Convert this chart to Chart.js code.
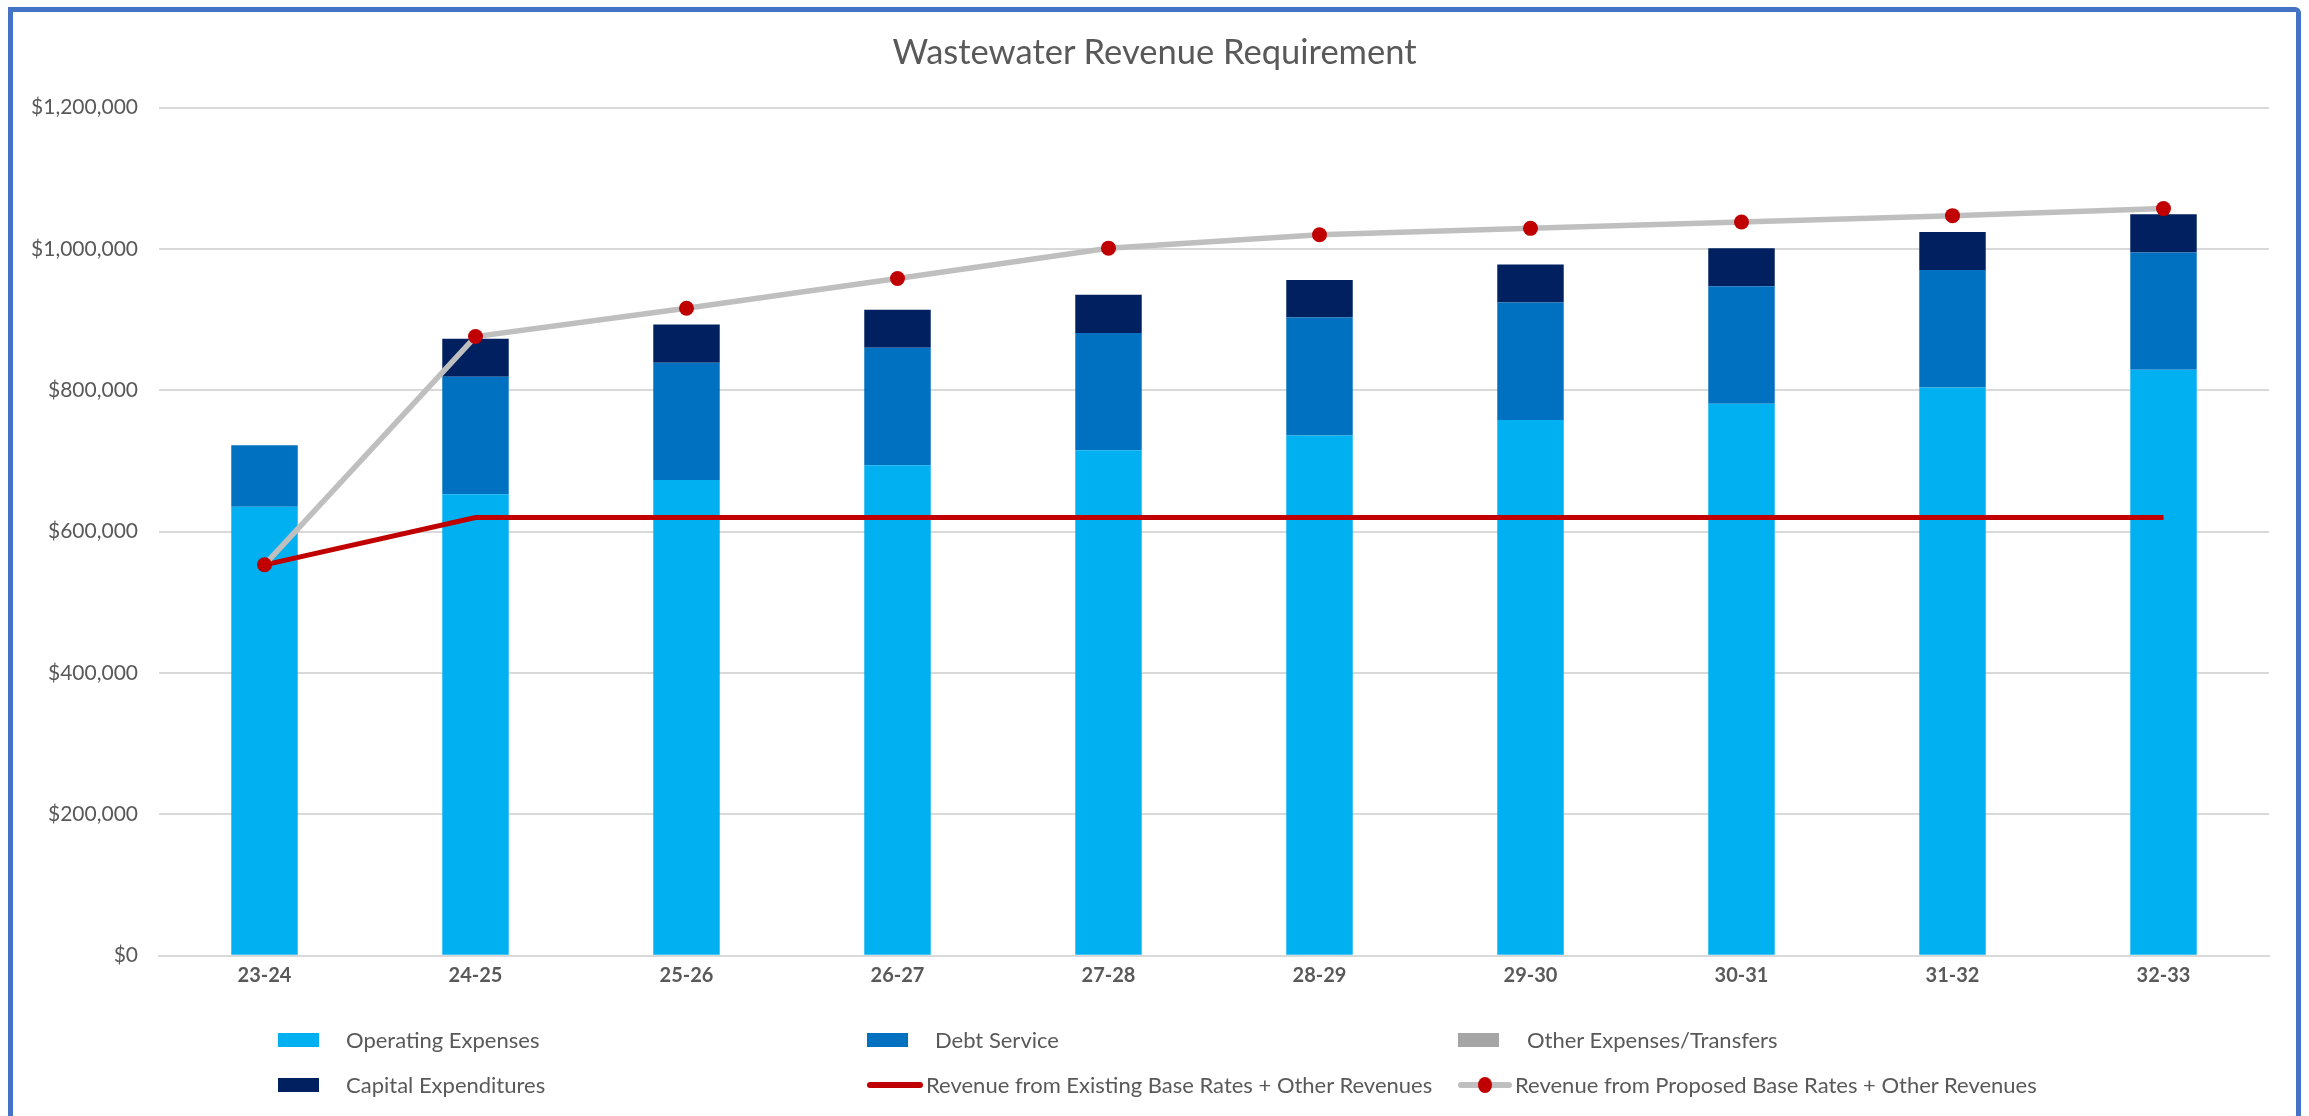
<!DOCTYPE html>
<html>
<head>
<meta charset="utf-8">
<script src="https://cdn.jsdelivr.net/npm/chart.js@4.4.1/dist/chart.umd.min.js"></script>
<style>
  html, body { margin: 0; padding: 0; background: #ffffff; overflow: hidden; width: 2309px; height: 1116px; }
  #frame { position: absolute; left: 8px; top: 7px; width: 2283px; height: 1200px; border: 5px solid #4472C4; border-bottom: none; border-radius: 0 6px 0 0; }
  #chartBox { position: absolute; left: 0; top: 0; width: 2309px; height: 1116px; }
  #title { position: absolute; left: 0; top: 31px; width: 2309px; text-align: center; font-family: Lato, sans-serif; font-size: 34.5px; line-height: 40px; color: #595959; }
  .leg { position: absolute; font-family: Lato, sans-serif; font-size: 22px; line-height: 26px; color: #595959; white-space: nowrap; }
  .sw { position: absolute; }
</style>
</head>
<body>
<div id="frame"></div>
<div id="chartBox"><canvas id="c" width="2309" height="1116"></canvas></div>
<div id="title">Wastewater Revenue Requirement</div>
<div id="legend"></div>
<script>
// ---- Data ----
const categories = ['23-24', '24-25', '25-26', '26-27', '27-28', '28-29', '29-30', '30-31', '31-32', '32-33'];
const operatingExpenses = [635000, 653000, 673000, 694000, 715000, 736000, 758000, 781000, 804000, 829000];
const debtService = [87000, 166000, 166000, 166000, 166000, 167000, 166000, 166000, 166000, 166000];
const otherExpensesTransfers = [0, 0, 0, 0, 0, 0, 0, 0, 0, 0];
const capitalExpenditures = [0, 54000, 54000, 54000, 54000, 53000, 54000, 54000, 54000, 54000];
const existingRevenue = [553000, 620000, 620000, 620000, 620000, 620000, 620000, 620000, 620000, 620000];
const proposedRevenue = [553000, 876000, 916000, 958000, 1001000, 1020000, 1029000, 1038000, 1047000, 1057000];
const yTickValues = [0, 200000, 400000, 600000, 800000, 1000000, 1200000];
const seriesLabels = ['Operating Expenses', 'Debt Service', 'Other Expenses/Transfers', 'Capital Expenditures',
  'Revenue from Existing Base Rates + Other Revenues', 'Revenue from Proposed Base Rates + Other Revenues'];

const fmt = v => '$' + Number(v).toLocaleString('en-US');

const chart = new Chart(document.getElementById('c'), {
  data: {
    labels: categories,
    datasets: [
      { type: 'line', label: seriesLabels[5], data: proposedRevenue, borderColor: '#BFBFBF', borderWidth: 5.5,
        pointRadius: 7.5, pointHoverRadius: 7.5, pointBackgroundColor: '#C00000', pointBorderWidth: 0,
        tension: 0, stack: 'proposed', order: 0, fill: false },
      { type: 'line', label: seriesLabels[4], data: existingRevenue, borderColor: '#C00000', borderWidth: 5,
        pointRadius: 0, pointHoverRadius: 0, tension: 0, stack: 'existing', order: 1, fill: false },
      { type: 'bar', label: seriesLabels[0], data: operatingExpenses, backgroundColor: '#00B0F0', stack: 'bars', order: 2 },
      { type: 'bar', label: seriesLabels[1], data: debtService, backgroundColor: '#0070C0', stack: 'bars', order: 3 },
      { type: 'bar', label: seriesLabels[2], data: otherExpensesTransfers, backgroundColor: '#A5A5A5', stack: 'bars', order: 4 },
      { type: 'bar', label: seriesLabels[3], data: capitalExpenditures, backgroundColor: '#002060', stack: 'bars', order: 5 }
    ]
  },
  options: {
    responsive: false,
    animation: false,
    devicePixelRatio: 1,
    barPercentage: 0.315,
    categoryPercentage: 1,
    layout: { padding: { top: 107.5, left: 0, right: 40, bottom: 110.3 } },
    plugins: { legend: { display: false }, title: { display: false }, tooltip: { enabled: false } },
    scales: {
      x: {
        stacked: true,
        grid: { display: false, drawTicks: false },
        border: { display: true, color: '#D9D9D9', width: 2 },
        ticks: { font: { family: 'Lato', size: 20, weight: 'bold' }, color: '#595959', padding: 8 },
        afterFit: s => { s.height = 50; }
      },
      y: {
        stacked: true,
        min: 0, max: 1200000,
        afterBuildTicks: s => { s.ticks = yTickValues.map(v => ({ value: v })); },
        ticks: { callback: v => fmt(v), font: { family: 'Lato', size: 21 }, color: '#595959', padding: 21 },
        grid: { color: '#D9D9D9', lineWidth: 2, drawTicks: false },
        border: { display: false },
        afterFit: s => { s.width = 159; }
      }
    }
  }
});

// ---- HTML legend built from the dataset labels ----
const legendItems = [
  { label: seriesLabels[0], kind: 'box', color: '#00B0F0', x: 278, tx: 346, y: 1040 },
  { label: seriesLabels[1], kind: 'box', color: '#0070C0', x: 867, tx: 935, y: 1040 },
  { label: seriesLabels[2], kind: 'box', color: '#A5A5A5', x: 1458, tx: 1527, y: 1040 },
  { label: seriesLabels[3], kind: 'box', color: '#002060', x: 278, tx: 346, y: 1085 },
  { label: seriesLabels[4], kind: 'line', color: '#C00000', x: 867, tx: 926, y: 1085 },
  { label: seriesLabels[5], kind: 'lineDot', color: '#BFBFBF', dot: '#C00000', x: 1458, tx: 1515, y: 1085 }
];
const leg = document.getElementById('legend');
legendItems.forEach(it => {
  if (it.kind === 'box') {
    const d = document.createElement('div');
    d.className = 'sw';
    d.style.cssText = `left:${it.x}px;top:${it.y - 7}px;width:41px;height:14px;background:${it.color};`;
    leg.appendChild(d);
  } else {
    const l = document.createElement('div');
    l.className = 'sw';
    l.style.cssText = `left:${it.x}px;top:${it.y - 3}px;width:${it.tx - it.x - 3}px;height:6px;background:${it.color};border-radius:3px;`;
    leg.appendChild(l);
    if (it.kind === 'lineDot') {
      const dt = document.createElement('div');
      dt.className = 'sw';
      const cx = it.x + (it.tx - it.x - 3) / 2;
      dt.style.cssText = `left:${cx - 7}px;top:${it.y - 8}px;width:14px;height:16px;border-radius:50%;background:${it.dot};`;
      leg.appendChild(dt);
    }
  }
  const t = document.createElement('div');
  t.className = 'leg';
  t.style.left = it.tx + 'px';
  t.style.top = (it.y - 13) + 'px';
  t.textContent = it.label;
  leg.appendChild(t);
});
</script>
</body>
</html>
